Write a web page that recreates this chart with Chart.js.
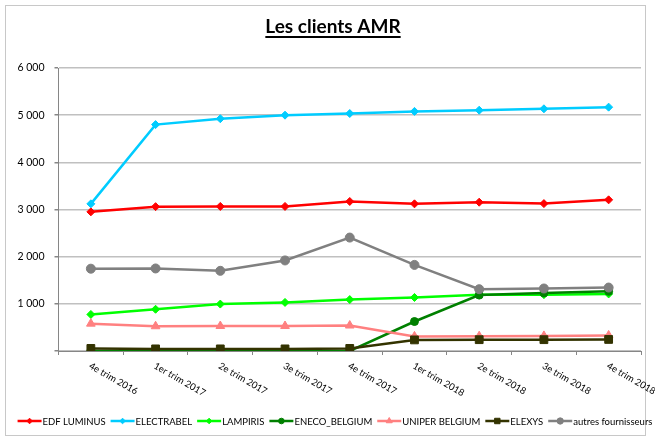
<!DOCTYPE html>
<html>
<head>
<meta charset="utf-8">
<script src="https://cdn.jsdelivr.net/npm/chart.js@4"></script>
<style>
  html, body { margin: 0; padding: 0; background: #fff; }
  #wrap { width: 655px; height: 439px; }
</style>
</head>
<body>
<div id="wrap"><canvas id="amrChart" width="655" height="439"></canvas></div>
<script>
// données
const quarters = ['4e trim 2016', '1er trim 2017', '2e trim 2017', '3e trim 2017', '4e trim 2017',
                  '1er trim 2018', '2e trim 2018', '3e trim 2018', '4e trim 2018'];
const edfLuminus    = [2950, 3060, 3065, 3065, 3170, 3120, 3155, 3125, 3205];
const electrabel    = [3120, 4800, 4925, 5000, 5035, 5080, 5105, 5135, 5170];
const lampiris      = [775, 885, 995, 1030, 1090, 1135, 1190, 1195, 1210];
const enecoBelgium  = [0, 0, 0, 0, 0, 625, 1185, 1230, 1265];
const uniperBelgium = [580, 525, 530, 530, 540, 310, 315, 320, 330];
const elexys        = [55, 45, 45, 45, 55, 235, 240, 240, 245];
const autres        = [1745, 1750, 1700, 1920, 2405, 1825, 1310, 1325, 1345];
const yTickLabels   = ['', '1 000', '2 000', '3 000', '4 000', '5 000', '6 000'];

const FONT = 'Lato, "Open Sans", "Liberation Sans", sans-serif';

function serie(label, data, color, style, radius) {
  return {
    label: label,
    data: data,
    borderColor: color,
    backgroundColor: color,
    pointBackgroundColor: color,
    pointBorderColor: color,
    borderWidth: 2.5,
    pointStyle: style,
    pointRadius: radius,
    pointBorderWidth: 1,
    tension: 0
  };
}

const datasets = [
  serie('EDF LUMINUS', edfLuminus, '#ff0000', 'rectRot', 4),
  serie('ELECTRABEL', electrabel, '#00ccff', 'rectRot', 4),
  serie('LAMPIRIS', lampiris, '#00ff00', 'rectRot', 4),
  serie('ENECO_BELGIUM', enecoBelgium, '#008000', 'circle', 4),
  serie('UNIPER BELGIUM', uniperBelgium, '#ff8080', 'triangle', 5),
  serie('ELEXYS', elexys, '#333300', 'rect', 5.5),
  serie('autres fournisseurs', autres, '#808080', 'circle', 4.5)
];
// comme Excel : la dernière série est dessinée par-dessus
datasets.forEach((d, i) => { d.order = datasets.length - i; });

// cadre, titre souligné, étiquettes inclinées et légende
const decor = {
  id: 'decor',
  beforeDraw(chart) {
    const c = chart.ctx;
    c.save();
    c.fillStyle = '#ffffff';
    c.fillRect(0, 0, chart.width, chart.height);
    c.strokeStyle = '#c8c8c8';
    c.lineWidth = 1;
    c.strokeRect(5.5, 5.5, 640, 430);
    c.restore();
  },
  afterDraw(chart) {
    const c = chart.ctx;
    c.save();

    // titre
    c.font = 'bold 19px ' + FONT;
    c.fillStyle = '#000';
    c.textAlign = 'center';
    c.textBaseline = 'alphabetic';
    c.fillText('Les clients AMR', 333, 33);
    const tw = c.measureText('Les clients AMR').width;
    c.fillRect(333 - tw / 2, 36, tw, 2);

    // étiquettes de l'axe des x
    const xs = chart.scales.x;
    c.font = '9.5px ' + FONT;
    c.textAlign = 'left';
    c.textBaseline = 'middle';
    quarters.forEach((q, i) => {
      const x = xs.getPixelForValue(i);
      c.save();
      c.translate(x - 1, 365);
      c.rotate(Math.PI / 6);
      c.fillText(q, 0, 0);
      c.restore();
    });

    // légende
    c.font = '9.5px ' + FONT;
    const lineW = 24, gapText = 1, gapItem = 5;
    let total = 0;
    datasets.forEach(d => { total += lineW + gapText + c.measureText(d.label).width + gapItem; });
    total -= gapItem;
    let x = 335 - total / 2;
    const y = 421;
    datasets.forEach(d => {
      c.strokeStyle = d.borderColor;
      c.lineWidth = 2.5;
      c.beginPath();
      c.moveTo(x, y);
      c.lineTo(x + lineW, y);
      c.stroke();
      c.fillStyle = d.borderColor;
      c.lineWidth = 1;
      Chart.helpers.drawPoint(c, {
        pointStyle: d.pointStyle,
        radius: d.pointRadius * 0.7,
        borderWidth: 1,
        rotation: 0
      }, x + lineW / 2, y);
      c.fillStyle = '#000';
      c.textAlign = 'left';
      c.textBaseline = 'middle';
      c.fillText(d.label, x + lineW + gapText, y + 0.5);
      x += lineW + gapText + c.measureText(d.label).width + gapItem;
    });
    c.restore();
  }
};

new Chart(document.getElementById('amrChart'), {
  type: 'line',
  data: { labels: quarters, datasets: datasets },
  plugins: [decor],
  options: {
    responsive: false,
    animation: false,
    devicePixelRatio: 1,
    layout: { padding: { left: 6, right: 14, top: 68, bottom: 0 } },
    plugins: {
      legend: { display: false },
      title: { display: false },
      tooltip: { enabled: false }
    },
    scales: {
      x: {
        offset: true,
        afterFit: s => { s.height = 88; },
        grid: {
          offset: true,
          drawOnChartArea: false,
          drawTicks: true,
          tickLength: 4,
          color: '#868686'
        },
        border: { color: '#868686', width: 1 },
        ticks: { display: false }
      },
      y: {
        min: 0,
        max: 6000,
        afterFit: s => { s.width = 52.5; },
        grid: { color: '#c0c0c0', lineWidth: 1.5, tickLength: 4, tickColor: '#868686' },
        border: { color: '#868686', width: 1 },
        ticks: {
          stepSize: 1000,
          padding: 10,
          color: '#000',
          font: { family: FONT, size: 10.5 },
          callback: (v, i) => yTickLabels[i]
        }
      }
    }
  }
});
</script>
</body>
</html>
